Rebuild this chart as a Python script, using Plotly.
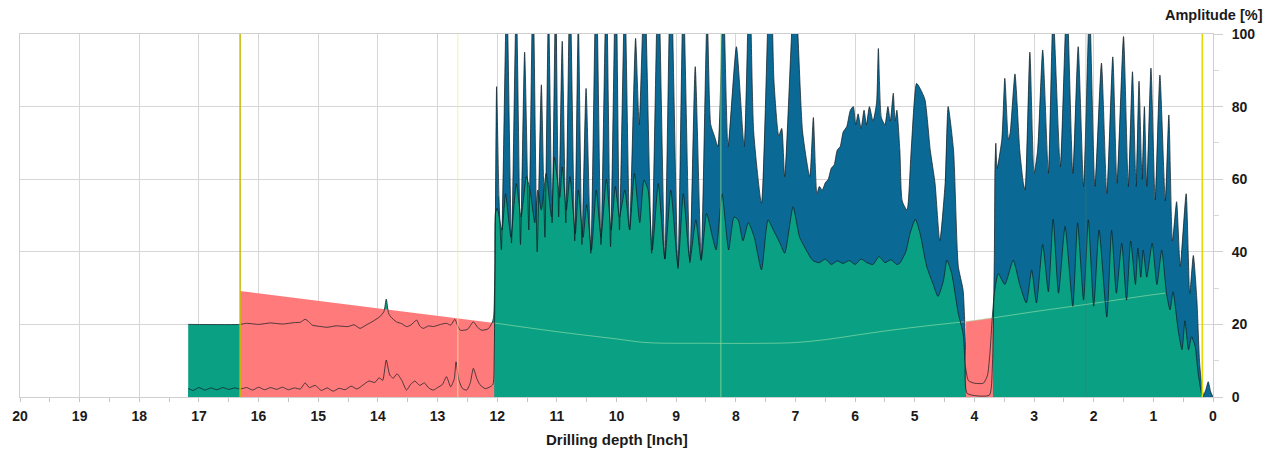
import plotly.graph_objects as go

# ---------------- data ----------------
# Amplitude curve (blue)
amp_depth = [17.18, 17.1, 17.0, 16.9, 16.8, 16.7, 16.6, 16.5, 16.4, 16.31, 16.2, 16.1, 16.0, 15.9, 15.8,
             15.7, 15.6, 15.5, 15.4, 15.3, 15.22, 15.15, 15.05, 14.95, 14.85, 14.75, 14.65, 14.55, 14.45,
             14.35, 14.25, 14.15, 14.05, 13.98, 13.92, 13.86, 13.8, 13.74, 13.68, 13.6, 13.52, 13.45,
             13.38, 13.3, 13.22, 13.15, 13.07, 13.0, 12.92, 12.85, 12.78, 12.72, 12.69, 12.64, 12.58,
             12.51, 12.45, 12.4, 12.34, 12.29, 12.2, 12.12, 12.07, 12.05, 12.03, 12.01, 11.97, 11.93,
             11.84, 11.76, 11.68, 11.61, 11.54, 11.47, 11.4, 11.33, 11.26, 11.2, 11.14, 11.08, 11.02,
             10.97, 10.91, 10.85, 10.78, 10.7, 10.64, 10.58, 10.51, 10.43, 10.34, 10.26, 10.17, 10.1,
             10.01, 9.95, 9.86, 9.78, 9.68, 9.62, 9.53, 9.41, 9.3, 9.19, 9.09, 8.97, 8.88, 8.77, 8.68,
             8.58, 8.48, 8.42, 8.36, 8.3, 8.21, 8.13, 7.99, 7.86, 7.77, 7.7, 7.57, 7.42, 7.36, 7.28,
             7.23, 7.18, 7.01, 6.88, 6.76, 6.7, 6.64, 6.6, 6.55, 6.5, 6.45, 6.4, 6.35, 6.3, 6.25, 6.2,
             6.14, 6.08, 6.03, 5.99, 5.95, 5.9, 5.85, 5.81, 5.76, 5.7, 5.64, 5.61, 5.56, 5.5, 5.45, 5.41,
             5.36, 5.33, 5.3, 5.25, 5.21, 5.13, 5.06, 4.97, 4.91, 4.83, 4.74, 4.66, 4.58, 4.49, 4.44,
             4.35, 4.27, 4.19, 4.15, 4.12, 3.75, 3.7, 3.665, 3.655, 3.64, 3.62, 3.54, 3.49, 3.43, 3.4,
             3.32, 3.24, 3.18, 3.15, 3.07, 3.0, 2.94, 2.855, 2.76, 2.68, 2.56, 2.45, 2.35, 2.26, 2.17,
             2.07, 1.98, 1.87, 1.78, 1.68, 1.61, 1.5, 1.42, 1.35, 1.29, 1.24, 1.19, 1.15, 1.11, 1.04,
             0.97, 0.89, 0.8, 0.74, 0.68, 0.61, 0.55, 0.45, 0.39, 0.33, 0.27, 0.22, 0.16, 0.12, 0.08,
             0.04, 0.0]
amp_value = [2.4, 1.8, 2.6, 1.9, 2.5, 2.0, 2.6, 2.1, 2.5, 2.2, 2.6, 1.9, 2.7, 2.0, 2.6,
             2.1, 2.7, 2.0, 2.5, 2.2, 3.9, 2.6, 3.2, 1.8, 2.5, 1.6, 2.4, 2.0, 3.0,
             2.2, 3.3, 4.4, 4.0, 5.3, 4.6, 10.2, 6.0, 5.2, 6.4, 4.6, 1.9, 3.5,
             4.4, 3.2, 3.9, 2.5, 1.9, 2.6, 3.4, 5.6, 2.8, 5.0, 9.7, 4.5, 2.3,
             1.9, 4.0, 7.9, 5.0, 3.4, 2.3, 2.8, 3.5, 12, 50, 85.5, 55, 40.5,
             112, 42.4, 110, 42, 95, 46, 115, 40, 86, 44, 108, 48, 112,
             49.6, 98, 48, 115, 43, 104, 42, 85, 39.6, 118, 42, 115, 41.4,
             120, 46, 112, 46, 98.8, 75, 115, 39.6, 118, 38, 120, 35.4, 112, 37, 91,
             38, 106, 75, 72, 69, 112, 69, 96.5, 69, 118, 73, 53.4, 125, 87, 72,
             74, 60.7, 115, 73, 60.7, 77, 56, 58, 57, 59, 60, 63, 64, 68, 69, 73,
             74.5, 79, 80, 75, 78, 74, 79, 75, 80, 76, 81, 96, 77, 75, 80, 76,
             83.7, 76, 79, 68, 54, 51.5, 68, 86.4, 85, 82, 68, 58.9, 43, 59, 80,
             68, 36, 29.5, 15, 1.0, 0.5, 8, 40, 63.4, 69.9, 63, 71, 87.8, 71, 72.8,
             89, 68, 59, 57, 95, 61.6, 68, 95.6, 61.6, 106, 63.4, 110, 61.6, 96.5, 58,
             108, 58, 92, 56, 93.7, 58.9, 99.3, 58, 89.6, 58, 87, 60, 80, 58, 90.6,
             54.3, 88.7, 54, 77.7, 43, 53.8, 36, 56, 28.5, 39, 26.7, 8.4, 0.5, 2, 4.2,
             1.5, 0]

# Feed curve (green)
feed_depth = [17.18, 16.31, 16.2, 16.0, 15.8, 15.6, 15.4, 15.3, 15.22, 15.15, 15.1, 14.95, 14.85, 14.7,
              14.5, 14.4, 14.3, 14.2, 14.1, 13.97, 13.9, 13.86, 13.82, 13.78, 13.69, 13.6, 13.52,
              13.45, 13.35, 13.3, 13.24, 13.15, 13.07, 12.95, 12.85, 12.78, 12.71, 12.66, 12.62,
              12.5, 12.4, 12.33, 12.26, 12.15, 12.09, 12.06, 12.04, 12.03, 12.0, 11.92, 11.86,
              11.77, 11.68, 11.6, 11.51, 11.45, 11.37, 11.32, 11.26, 11.18, 11.09, 11.04, 10.95,
              10.91, 10.84, 10.78, 10.69, 10.64, 10.56, 10.5, 10.42, 10.34, 10.26, 10.17, 10.09,
              10.02, 9.95, 9.86, 9.78, 9.7, 9.61, 9.54, 9.47, 9.4, 9.3, 9.19, 9.09, 8.97, 8.88,
              8.77, 8.67, 8.58, 8.49, 8.39, 8.33, 8.23, 8.12, 8.03, 7.96, 7.88, 7.79, 7.69, 7.57,
              7.46, 7.37, 7.26, 7.18, 7.04, 6.93, 6.82, 6.71, 6.6, 6.5, 6.4, 6.3, 6.2, 6.1, 6.0,
              5.9, 5.8, 5.7, 5.6, 5.5, 5.4, 5.3, 5.25, 5.15, 5.08, 4.99, 4.91, 4.8, 4.69, 4.61,
              4.52, 4.46, 4.38, 4.27, 4.19, 4.15, 4.1, 4.0, 3.85, 3.78, 3.74, 3.7, 3.665, 3.6,
              3.49, 3.35, 3.24, 3.13, 3.04, 2.96, 2.855, 2.76, 2.68, 2.59, 2.48, 2.35, 2.27, 2.17,
              2.09, 2.0, 1.91, 1.78, 1.7, 1.62, 1.53, 1.45, 1.38, 1.3, 1.26, 1.21, 1.17, 1.11,
              1.02, 0.94, 0.86, 0.78, 0.72, 0.67, 0.58, 0.52, 0.47, 0.41, 0.36, 0.3, 0.25, 0.19,
              0.16]
feed_value = [20.0, 20.0, 20.3, 20.0, 20.4, 20.1, 20.5, 20.6, 21.4, 20.6, 19.8, 19.4, 19.2, 19.6,
              19.4, 19.9, 18.9, 19.8, 20.7, 22.1, 23.5, 27, 23, 22, 20.7, 20.2, 19.4,
              19.8, 21.2, 19.6, 18.9, 19.6, 19.4, 20.0, 20.3, 19.8, 21.4, 19.5, 18.4,
              18.6, 20.7, 19.2, 18.4, 18.8, 20.3, 22, 35, 50.6, 52, 46, 56,
              44, 58.8, 49.6, 60.7, 57, 48, 57, 51.5, 61.6, 49.6, 66, 55,
              63.4, 51.5, 60.7, 45, 57, 44, 53, 40.5, 57, 44, 60, 46,
              58, 49.6, 57, 46, 61.6, 48, 59.8, 57, 40.5, 58.8, 38, 57, 36, 56,
              37.6, 48.8, 37.6, 50.6, 44, 40.5, 56, 40.5, 49.6, 48.8, 43, 48, 44, 35,
              48.8, 46, 42.4, 39.6, 52.4, 44, 40.5, 37.6, 37, 38, 36.5, 37.5, 36.8, 37.6, 36.5,
              38, 37, 36.5, 38.7, 37, 37.8, 36.5, 36.9, 40, 45, 49, 45, 36, 31, 27.7,
              32, 37.7, 34, 23, 17.5, 8.4, 4.5, 3.8, 3.8, 6, 12, 22, 28.6, 34,
              31, 37.7, 31, 25.9, 35, 25.9, 42, 29, 49, 28.6, 47, 25, 48, 26.7,
              48.8, 25, 46, 22, 46, 28.6, 42.4, 26.7, 43, 31, 41, 33, 40.5, 33,
              42.4, 31, 40.5, 28.6, 24, 29, 18, 13, 21, 13, 16.6, 14, 6.7, 0.8,
              0]

# Reference (trend) line
trend_depth = [16.31, 12.05, 11.0, 10.0, 9.5, 8.5, 7.5, 7.0, 6.5, 6.0, 5.4, 4.8, 4.14, 3.69, 3.0, 2.0, 1.0, 0.8]
trend_value = [29.2, 20.4, 18.0, 16.0, 15.0, 14.8, 14.8, 15.0, 15.8, 17.0, 18.4, 19.6, 20.8, 21.8, 23.5, 25.8, 28.2, 28.6]

# Gap zones (red) as (start depth, end depth)
gap_start = [16.31, 4.14]
gap_end = [12.05, 3.69]

# Marker lines
marker_depth = [16.31, 12.66, 8.25, 2.13, 0.18]
marker_color = ["#c9b800", "rgba(240,236,150,0.8)", "rgba(150,225,150,0.75)",
                "rgba(90,120,100,0.35)", "#e2d900"]
marker_width = [1.5, 1, 1, 1, 1.5]

x_ticks = list(range(0, 21))
y_ticks = [0, 20, 40, 60, 80, 100]

BLUE = "#0b6a95"
GREEN = "#0aa083"
RED = "#ff7b7b"
OUTLINE = "rgba(15,28,34,0.72)"
FONT = "Liberation Sans, Arial, sans-serif"
CURVE = dict(shape="spline", smoothing=0.55)

# ---------------- build red gap polygons from trend ----------------
red_x, red_y = [], []
for s, e in zip(gap_start, gap_end):
    pts = [(d, v) for d, v in zip(trend_depth, trend_value) if e <= d <= s]
    red_x += [s] + [p[0] for p in pts] + [e, None]
    red_y += [0] + [p[1] for p in pts] + [0, None]

trend_x = [d for d in trend_depth if d <= gap_end[0]]
trend_y = [v for d, v in zip(trend_depth, trend_value) if d <= gap_end[0]]

fig = go.Figure()
fig.add_trace(go.Scatter(x=amp_depth, y=amp_value, mode="lines", fill="tozeroy",
                         fillcolor=BLUE, line=dict(width=0, color=BLUE, **CURVE), hoverinfo="skip"))
fig.add_trace(go.Scatter(x=feed_depth, y=feed_value, mode="lines", fill="tozeroy",
                         fillcolor=GREEN, line=dict(width=0, color=GREEN, **CURVE), hoverinfo="skip"))
fig.add_trace(go.Scatter(x=red_x, y=red_y, mode="lines", fill="toself",
                         fillcolor=RED, line=dict(width=0, color=RED), hoverinfo="skip"))
fig.add_trace(go.Scatter(x=trend_x, y=trend_y, mode="lines",
                         line=dict(width=1, color="rgba(170,235,175,0.55)", shape="spline"),
                         hoverinfo="skip"))
fig.add_trace(go.Scatter(x=amp_depth, y=amp_value, mode="lines",
                         line=dict(width=1, color=OUTLINE, **CURVE), hoverinfo="skip"))
fig.add_trace(go.Scatter(x=feed_depth, y=feed_value, mode="lines",
                         line=dict(width=1, color=OUTLINE, **CURVE), hoverinfo="skip"))

for d, c, w in zip(marker_depth, marker_color, marker_width):
    fig.add_vline(x=d, line=dict(color=c, width=w), layer="above")

tick_font = dict(family=FONT, size=14, color="#1a1a1a", weight="bold")

fig.update_layout(
    width=1269, height=449,
    margin=dict(l=20, r=56, t=34, b=52),
    paper_bgcolor="white", plot_bgcolor="white",
    showlegend=False,
    xaxis=dict(range=[20, 0], tickvals=x_ticks, ticktext=[str(t) for t in x_ticks],
               showgrid=True, gridcolor="#d6d6d6", gridwidth=1,
               zeroline=False, showline=True, linecolor="#cfcfcf", mirror=True,
               ticks="outside", ticklen=4, tickcolor="#c4c4c4",
               minor=dict(dtick=0.5, ticks="outside", ticklen=4, tickcolor="#c4c4c4", showgrid=False),
               tickfont=tick_font, ticklabelstandoff=2),
    yaxis=dict(range=[0, 100], side="right", tickvals=y_ticks,
               showgrid=True, gridcolor="#d6d6d6", gridwidth=1,
               zeroline=False, showline=True, linecolor="#cfcfcf", mirror=True,
               ticks="outside", ticklen=9, tickcolor="#cfcfcf",
               minor=dict(dtick=10, ticks="outside", ticklen=5, tickcolor="#d8d8d8", showgrid=False),
               tickfont=tick_font, ticklabelstandoff=6),
    annotations=[
        dict(text="<b>Drilling depth [Inch]</b>", xref="paper", yref="paper", x=0.5, y=-0.118,
             xanchor="center", yanchor="middle", showarrow=False,
             font=dict(family=FONT, size=15, color="#1a1a1a")),
        dict(text="<b>Amplitude [%]</b>", xref="paper", yref="paper", x=(1265 - 20) / 1193,
             y=(397 - 15) / 363, xanchor="right", yanchor="middle", showarrow=False,
             font=dict(family=FONT, size=14.5, color="#1a1a1a")),
    ],
)

fig.write_html("out.html", config={"displayModeBar": False},
               post_script="document.body.style.margin='0px';document.body.style.overflow='hidden';")
